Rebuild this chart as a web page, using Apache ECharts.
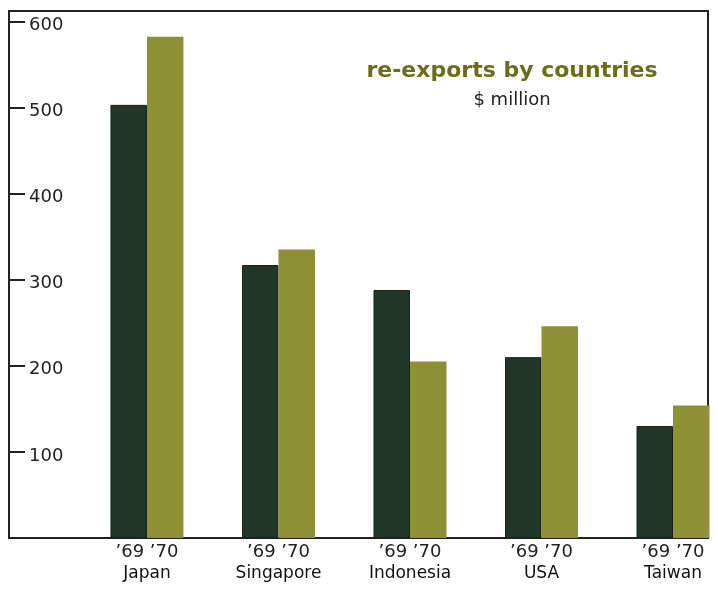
<!DOCTYPE html>
<html>
<head>
<meta charset="utf-8">
<script src="https://cdn.jsdelivr.net/npm/echarts@6/dist/echarts.min.js"></script>
<style>
  html, body { margin: 0; padding: 0; background: #fff; }
  #chart { width: 718px; height: 598px; }
</style>
</head>
<body>
<div id="chart"></div>
<script>
// Re-exports by destination country, $ million
const countries = ['Japan', 'Singapore', 'Indonesia', 'USA', 'Taiwan'];
const years = ['’69', '’70'];
const reexports1969 = [503, 317, 288, 210, 130];
const reexports1970 = [582, 335, 205, 246, 154];
const yTicks = [100, 200, 300, 400, 500, 600];

// Value scale of the panel (the frame extends a little above 600)
const Y_MAX = 612;
// Country slots run on a numeric x scale: slot i is centred on value i
const X_MIN = -1.049, X_MAX = 4.266;
const FONT = '"DejaVu Sans", Verdana, sans-serif';

const slotIndex = countries.map(function (_, i) { return i; });
const pairs = function (vals) { return vals.map(function (v, i) { return [slotIndex[i], v]; }); };

const chart = echarts.init(document.getElementById('chart'), null, { renderer: 'canvas' });

chart.setOption({
  backgroundColor: '#ffffff',
  animation: false,
  title: {
    text: 're-exports by countries',
    subtext: '$ million',
    left: 507,
    top: 55,
    textAlign: 'center',
    itemGap: 9,
    textStyle: { fontFamily: FONT, fontSize: 22, fontWeight: 'bold', color: '#6c6d1c' },
    subtextStyle: { fontFamily: FONT, fontSize: 18, color: '#222' }
  },
  grid: {
    left: 9, right: 10, top: 11, bottom: 60,
    show: true, borderColor: '#222', borderWidth: 2
  },
  xAxis: {
    type: 'value', min: X_MIN, max: X_MAX,
    splitLine: { show: false },
    axisLine: { show: false, onZero: false }, axisTick: { show: false },
    axisLabel: {
      margin: 3,
      customValues: slotIndex,
      formatter: function (v) {
        const name = countries[Math.round(v)];
        return name ? '{yr|' + years.join(' ') + '}\n{c|' + name + '}' : '';
      },
      rich: {
        yr: { fontFamily: FONT, fontSize: 18, color: '#222', lineHeight: 22 },
        c: { fontFamily: FONT, fontSize: 17, color: '#111', lineHeight: 22 }
      }
    }
  },
  yAxis: {
    type: 'value', min: 0, max: Y_MAX, interval: 100,
    splitLine: { show: false },
    axisLine: { show: true, onZero: false, lineStyle: { color: '#222', width: 2 } },
    axisTick: {
      show: true, inside: true, length: 16,
      lineStyle: { color: '#222', width: 2 },
      customValues: yTicks
    },
    axisLabel: {
      inside: true, margin: 20,
      customValues: yTicks,
      formatter: function (v) { return yTicks.indexOf(v) >= 0 ? '{n|' + v + '}' : ''; },
      rich: {
        n: { fontFamily: FONT, fontSize: 18, color: '#222', padding: [8, 0, 0, 0] }
      }
    }
  },
  series: [
    {
      name: years[0], type: 'bar',
      data: pairs(reexports1969), barWidth: 36.5, barGap: '0%',
      itemStyle: { color: '#1f3628', borderColor: '#15231a', borderWidth: 1 }
    },
    {
      name: years[1], type: 'bar',
      data: pairs(reexports1970), barWidth: 36.5, barGap: '0%',
      itemStyle: { color: '#8d9035' }
    }
  ]
});
</script>
</body>
</html>
